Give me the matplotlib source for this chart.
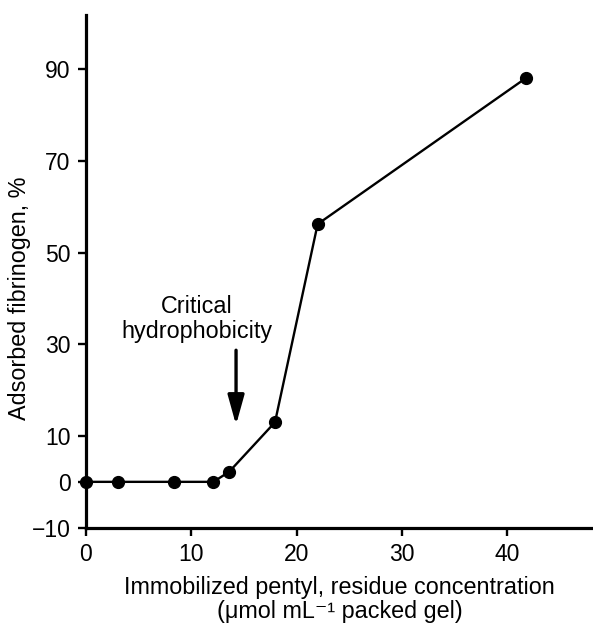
# fibrinogen adsorption vs immobilized pentyl concentration
import matplotlib
matplotlib.use('Agg')
import matplotlib.pyplot as plt

# data
pentyl_conc = [0, 3.0, 8.4, 12.1, 13.6, 17.95, 22.0, 41.75]
adsorbed = [0, 0, 0, 0, 2.2, 13.0, 56.2, 88.0]
x_ticks = [0, 10, 20, 30, 40]
y_ticks = [-10, 0, 10, 30, 50, 70, 90]
arrow_x = 14.25
arrow_from, arrow_to = 28.7, 12.4

plt.rcParams['font.family'] = ['Liberation Sans', 'DejaVu Sans']

fig = plt.figure(figsize=(5.93, 6.23), dpi=100)
ax = fig.add_axes([86/593, 1-527.7/623, 1-86/593, (527.7-15)/623])

ax.plot(pentyl_conc, adsorbed, color='black', lw=1.7, marker='o', ms=8.5,
        clip_on=False, zorder=5)

ax.annotate('', xy=(arrow_x, arrow_to), xytext=(arrow_x, arrow_from),
            arrowprops=dict(arrowstyle='-|>,head_length=0.9,head_width=0.25',
                            mutation_scale=20, lw=2.4, color='black',
                            shrinkA=0, shrinkB=0))
ax.text(10.55, 35.5, 'Critical\nhydrophobicity', ha='center', va='center',
        fontsize=16.8, linespacing=1.1)

ax.set_xlim(0, 48.15)
ax.set_ylim(-10, 101.8)
ax.set_xticks(x_ticks)
ax.set_yticks(y_ticks)

for side in ['top', 'right']:
    ax.spines[side].set_visible(False)
for side in ['left', 'bottom']:
    ax.spines[side].set_linewidth(2.3)

ax.tick_params(axis='y', direction='out', length=6, width=1.7, pad=5, labelsize=16.5)
ax.tick_params(axis='x', direction='out', length=6, width=1.7, pad=5, labelsize=16.5)

ax.set_xlabel('Immobilized pentyl, residue concentration\n(\u03bcmol mL\u207b\u00b9 packed gel)',
              fontsize=16.8, linespacing=1.05, labelpad=7)
fig.text(20/593, 1-298/623, 'Adsorbed fibrinogen, %', rotation=90,
         ha='center', va='center', fontsize=16.8)

fig.savefig('out.png', dpi=100)
